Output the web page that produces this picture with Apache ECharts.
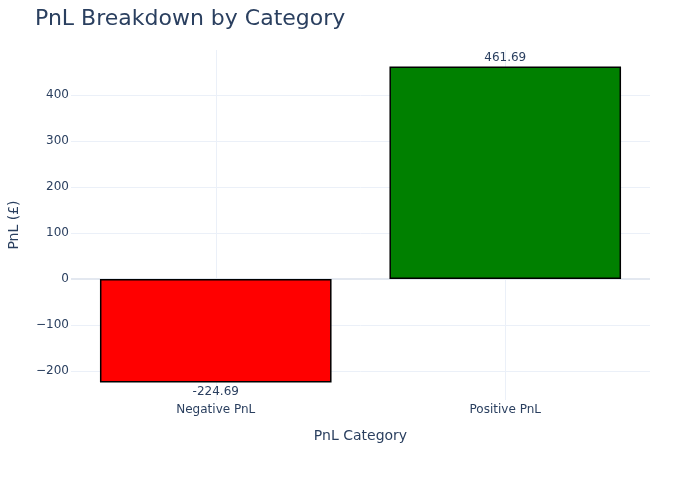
<!DOCTYPE html>
<html><head><meta charset="utf-8">
<script src="https://cdn.jsdelivr.net/npm/echarts@6/dist/echarts.min.js"></script>
<style>html,body{margin:0;padding:0;background:#fff}#c{width:700px;height:500px}</style>
</head><body><div id="c"></div>
<script>
const categories = ['Negative PnL', 'Positive PnL'];
const pnlValues = [-224.69, 461.69];
const barColors = ['#ff0000', '#008000'];
const yTicks = [-200, -100, 0, 100, 200, 300, 400];

const FONT = '"DejaVu Sans", Verdana, sans-serif';
const TXT = '#2a3f5f';
const GRID = '#ebf0f8';

const chart = echarts.init(document.getElementById('c'), null, {renderer: 'canvas'});
chart.setOption({
  backgroundColor: '#fff',
  animation: false,
  textStyle: {fontFamily: FONT},
  title: {
    text: 'PnL Breakdown by Category',
    left: 30, top: 3,
    textStyle: {fontFamily: FONT, fontSize: 22, fontWeight: 'normal', color: TXT}
  },
  grid: {left: 71, right: 50, top: 50, bottom: 100, containLabel: false, outerBoundsMode: 'none'},
  xAxis: {
    type: 'category',
    data: categories,
    name: 'PnL Category',
    nameLocation: 'middle',
    nameGap: 29,
    nameTextStyle: {fontFamily: FONT, fontSize: 14, color: TXT},
    axisLine: {show: false},
    axisTick: {show: false},
    axisLabel: {fontFamily: FONT, fontSize: 12, color: TXT, margin: 4},
    splitLine: {show: false}
  },
  yAxis: {
    type: 'value',
    min: -263,
    max: 497.8,
    name: 'PnL (£)',
    nameLocation: 'middle',
    nameGap: 50,
    nameTextStyle: {fontFamily: FONT, fontSize: 14, color: TXT},
    axisLine: {show: false},
    axisTick: {show: false, customValues: yTicks},
    axisLabel: {
      fontFamily: FONT, fontSize: 12, color: TXT, margin: 2,
      customValues: yTicks,
      formatter: v => v < 0 ? '\u2212' + Math.abs(v) : String(v)
    },
    splitLine: {show: true, lineStyle: {color: GRID, width: 1}}
  },
  series: [{
    type: 'bar',
    barWidth: '80%',
    z: 2,
    data: pnlValues.map((v, i) => ({
      value: v,
      itemStyle: {color: barColors[i], borderColor: '#000', borderWidth: 1.5},
      label: {
        show: true,
        position: v < 0 ? 'bottom' : 'top',
        distance: 3,
        formatter: String(v.toFixed(2)),
        fontFamily: FONT, fontSize: 12, color: TXT
      }
    })),
    markLine: {
      silent: true,
      z: 1,
      symbol: 'none',
      label: {show: false},
      lineStyle: {color: GRID, width: 1, type: 'solid'},
      data: [
        {xAxis: categories[0]},
        {xAxis: categories[1]},
        {yAxis: 0, lineStyle: {color: '#e3e8f0', width: 2, type: 'solid'}}
      ]
    }
  }]
});
</script></body></html>
